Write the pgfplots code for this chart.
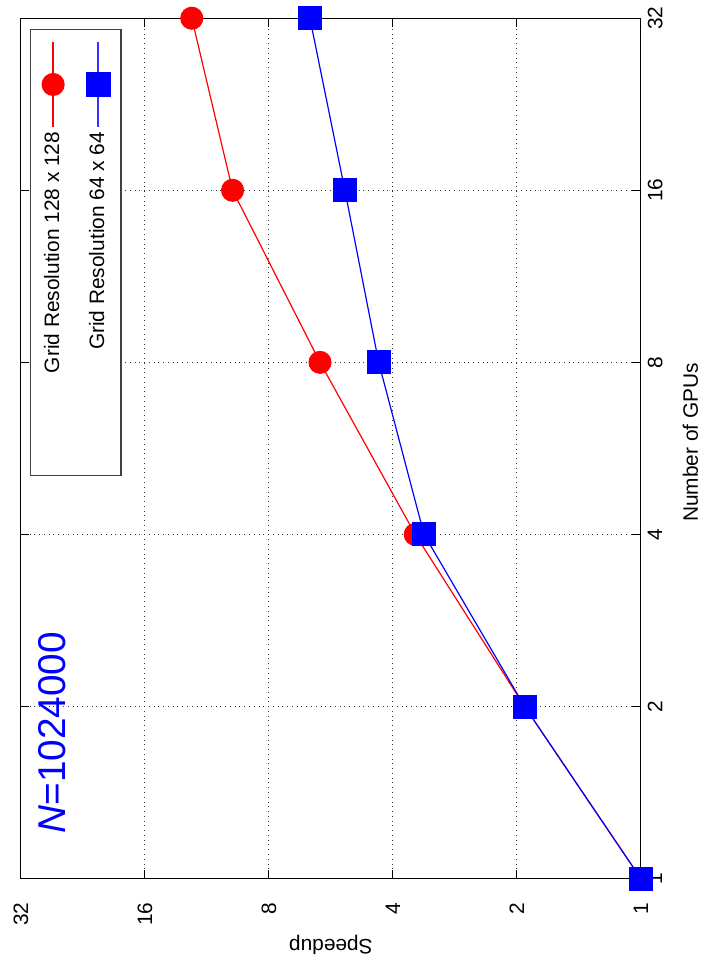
\documentclass[border=0pt]{standalone}
\usepackage{fontspec}
\setmainfont{Liberation Sans}
\usepackage{pgfplots}
\pgfplotsset{compat=1.18}
\begin{document}
\begin{tikzpicture}[rotate=90, transform shape, font=\fontsize{10.5}{12.6}\selectfont]
\begin{axis}[
  width=433pt, height=312pt, scale only axis,
  xmode=log, ymode=log, log basis x=2, log basis y=2,
  xmin=1, xmax=32, ymin=1, ymax=32,
  xtick={1,2,4,8,16,32}, ytick={1,2,4,8,16,32},
  xticklabels={1,2,4,8,16,32}, yticklabels={1,2,4,8,16,32},
  xminorticks=false, yminorticks=false,
  /pgf/number format/assume math mode=true,
  grid=major, grid style={dotted, black!80, line width=0.5pt},
  axis line style={line width=0.6pt},
  tick style={black, line width=0.6pt},
  tick label style={font=\fontsize{10.5}{12.6}\selectfont},
  yticklabel style={xshift=-8.5pt},
  xlabel={Number of GPUs}, ylabel={Speedup},
  label style={font=\fontsize{10.5}{12.6}\selectfont},
  xlabel style={at={(rel axis cs:0.507,-0.080)}, anchor=center},
  ylabel style={at={(rel axis cs:-0.0774,0.5)}, anchor=center},
  clip=false,
  legend plot pos=right,
  legend cell align=right,
  legend style={at={(rel axis cs:0.988,0.986)}, anchor=north east, draw=black!75, line width=0.6pt,
    font=\fontsize{10.5}{12.6}\selectfont, row sep=9.5pt, inner ysep=5pt, inner xsep=6pt},
]
\addplot[color=red, draw=red, line width=0.6pt, mark=*, mark size=5.5pt, mark options={fill=red, draw=red},
  legend image code/.code={\draw[draw=red, line width=0.7pt] (0pt,0pt) -- (43pt,0pt); \fill[red] (21.5pt,0pt) circle[radius=5.5pt];}]
  coordinates {(1,1) (2,1.915) (4,3.53) (8,6.01) (16,9.80) (32,12.31)};
\addlegendentry{\makebox[165pt][r]{Grid Resolution 128 x 128}}
\addplot[color=blue, draw=blue, line width=0.6pt, mark=square*, mark size=5.75pt, mark options={fill=blue, draw=blue},
  legend image code/.code={\draw[draw=blue!80, line width=0.7pt] (0pt,0pt) -- (43pt,0pt); \fill[blue] (15.5pt,-6pt) rectangle (27.5pt,6pt);}]
  coordinates {(1,1) (2,1.915) (4,3.36) (8,4.33) (16,5.23) (32,6.36)};
\addlegendentry{\makebox[165pt][r]{Grid Resolution 64 x 64}}
\node[anchor=west, text=blue, font=\fontsize{19.5}{22}\selectfont, inner sep=0pt] at (rel axis cs:0.052,0.949) {\textit{N}=1024000};
\path (rel axis cs:-0.1039,-0.1042) rectangle (rel axis cs:1.0139,1.0337);
\end{axis}
\end{tikzpicture}
\end{document}
